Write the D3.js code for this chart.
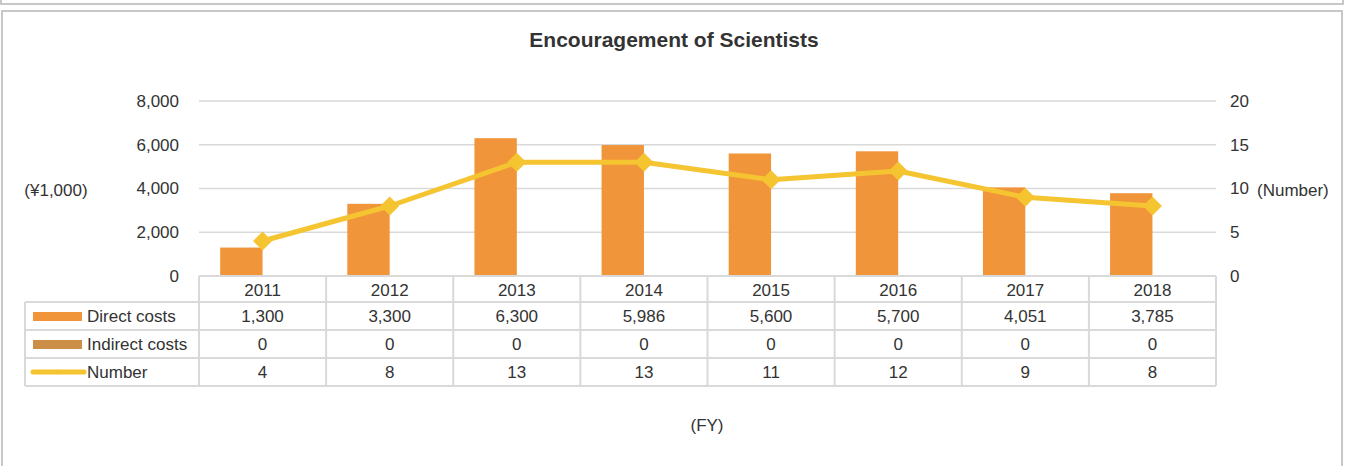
<!DOCTYPE html>
<html>
<head>
<meta charset="utf-8">
<script src="https://cdn.jsdelivr.net/npm/d3@7"></script>
<style>
  body { margin: 0; background: #fff; }
  svg text { font-family: "Liberation Sans", Arial, sans-serif; fill: #333; }
</style>
</head>
<body>
<div id="chart"></div>
<script>
var w = 1349;
var h = 466;

var years = ["2011", "2012", "2013", "2014", "2015", "2016", "2017", "2018"];
var directCosts = [1300, 3300, 6300, 5986, 5600, 5700, 4051, 3785];
var indirectCosts = [0, 0, 0, 0, 0, 0, 0, 0];
var numbers = [4, 8, 13, 13, 11, 12, 9, 8];
var leftTicks = [0, 2000, 4000, 6000, 8000];
var rightTicks = [0, 5, 10, 15, 20];
var seriesNames = ["Direct costs", "Indirect costs", "Number"];

var barColor = "#f0953a";
var indirectColor = "#cc8f47";
var lineColor = "#f5c431";
var gridColor = "#d9d9d9";
var fs = "17px";

var plotLeft = 199, plotRight = 1216, plotTop = 101, plotBottom = 276;

var svg = d3.select("#chart")
            .append("svg")
            .attr("width", w)
            .attr("height", h);

// frames
svg.append("rect")
    .attr("x", 1).attr("y", -10).attr("width", 1342).attr("height", 14)
    .attr("fill", "none").attr("stroke", "#c8c8c8").attr("stroke-width", 2);
svg.append("rect")
    .attr("x", 2).attr("y", 11).attr("width", 1340).attr("height", 470)
    .attr("fill", "none").attr("stroke", "#c8c8c8").attr("stroke-width", 2);

svg.append("text")
    .attr("x", 674).attr("y", 47)
    .attr("text-anchor", "middle")
    .style("font-size", "21px")
    .style("font-weight", "bold")
    .text("Encouragement of Scientists");

// scales
var xScale = d3.scaleBand().domain(years).range([plotLeft, plotRight]);
var xInner = d3.scaleBand()
    .domain(["direct", "indirect"])
    .range([0, xScale.bandwidth()])
    .paddingOuter(0.5);
var yLeft = d3.scaleLinear().domain([0, 8000]).range([plotBottom, plotTop]);
var yRight = d3.scaleLinear().domain([0, 20]).range([plotBottom, plotTop]);

// grid
svg.append("g")
    .selectAll("line")
    .data(leftTicks.slice(1))
    .enter()
    .append("line")
    .attr("x1", plotLeft).attr("x2", plotRight)
    .attr("y1", (d) => yLeft(d)).attr("y2", (d) => yLeft(d))
    .attr("stroke", gridColor).attr("stroke-width", 1.5);

// axes
var leftAxis = d3.axisLeft(yLeft)
    .tickValues(leftTicks)
    .tickFormat(d3.format(","))
    .tickSize(0)
    .tickPadding(20);
svg.append("g")
    .attr("transform", "translate(" + plotLeft + ",0)")
    .call(leftAxis)
    .call((g) => g.select(".domain").remove())
    .selectAll("text")
    .style("font-size", fs)
    .attr("fill", "#333");

var rightAxis = d3.axisRight(yRight)
    .tickValues(rightTicks)
    .tickSize(0)
    .tickPadding(14);
svg.append("g")
    .attr("transform", "translate(" + plotRight + ",0)")
    .call(rightAxis)
    .call((g) => g.select(".domain").remove())
    .selectAll("text")
    .style("font-size", fs)
    .attr("fill", "#333");

svg.append("text")
    .attr("x", 56).attr("y", 196)
    .attr("text-anchor", "middle")
    .style("font-size", fs)
    .text("(\u00a51,000)");
svg.append("text")
    .attr("x", 1257).attr("y", 196)
    .style("font-size", fs)
    .text("(Number)");

// bars
svg.append("g")
    .selectAll("rect")
    .data(years)
    .enter()
    .append("rect")
    .attr("x", (d) => xScale(d) + xInner("direct"))
    .attr("y", (d, i) => yLeft(directCosts[i]))
    .attr("width", xInner.bandwidth())
    .attr("height", (d, i) => yLeft(0) - yLeft(directCosts[i]))
    .attr("fill", barColor);

svg.append("g")
    .selectAll("rect")
    .data(years)
    .enter()
    .append("rect")
    .attr("x", (d) => xScale(d) + xInner("indirect"))
    .attr("y", (d, i) => yLeft(indirectCosts[i]))
    .attr("width", xInner.bandwidth())
    .attr("height", (d, i) => yLeft(0) - yLeft(indirectCosts[i]))
    .attr("fill", indirectColor);

// line
var cx = (d) => xScale(d) + xScale.bandwidth() / 2;
var line = d3.line()
    .x((d, i) => cx(years[i]))
    .y((d) => yRight(d));
svg.append("path")
    .datum(numbers)
    .attr("d", line)
    .attr("fill", "none")
    .attr("stroke", lineColor)
    .attr("stroke-width", 5)
    .attr("stroke-linejoin", "round");

var diamond = d3.symbol().type(d3.symbolDiamond2).size(230);
svg.append("g")
    .selectAll("path")
    .data(numbers)
    .enter()
    .append("path")
    .attr("d", diamond)
    .attr("transform", (d, i) => "translate(" + cx(years[i]) + "," + yRight(d) + ")")
    .attr("fill", lineColor);

// data table
var rowEdges = [276, 302, 330, 358, 386];
var tableLeft = 25;
var tableColor = "#d9d9d9";
var table = svg.append("g");

table.selectAll("line.h")
    .data(rowEdges)
    .enter()
    .append("line")
    .attr("class", "h")
    .attr("x1", (d, i) => i === 0 ? plotLeft : tableLeft)
    .attr("x2", plotRight)
    .attr("y1", (d) => d).attr("y2", (d) => d)
    .attr("stroke", tableColor).attr("stroke-width", 2);

var colEdges = years.map((d) => xScale(d)).concat([plotRight]);
table.selectAll("line.v")
    .data(colEdges)
    .enter()
    .append("line")
    .attr("class", "v")
    .attr("x1", (d) => d).attr("x2", (d) => d)
    .attr("y1", rowEdges[0]).attr("y2", rowEdges[4])
    .attr("stroke", tableColor).attr("stroke-width", 2);
table.append("line")
    .attr("x1", tableLeft).attr("x2", tableLeft)
    .attr("y1", rowEdges[1]).attr("y2", rowEdges[4])
    .attr("stroke", tableColor).attr("stroke-width", 2);

table.selectAll("text.year")
    .data(years)
    .enter()
    .append("text")
    .attr("class", "year")
    .attr("x", (d) => cx(d))
    .attr("y", (rowEdges[0] + rowEdges[1]) / 2 + 7)
    .attr("text-anchor", "middle")
    .style("font-size", fs)
    .text((d) => d);

var rows = [
  { name: seriesNames[0], values: directCosts, fmt: d3.format(","), color: barColor, kind: "bar" },
  { name: seriesNames[1], values: indirectCosts, fmt: d3.format(","), color: indirectColor, kind: "bar" },
  { name: seriesNames[2], values: numbers, fmt: d3.format("d"), color: lineColor, kind: "line" }
];

rows.forEach((r, ri) => {
  var yMid = (rowEdges[ri + 1] + rowEdges[ri + 2]) / 2;
  table.selectAll("text.r" + ri)
      .data(r.values)
      .enter()
      .append("text")
      .attr("x", (d, i) => cx(years[i]))
      .attr("y", yMid + 6)
      .attr("text-anchor", "middle")
      .style("font-size", fs)
      .text((d) => r.fmt(d));
  if (r.kind === "bar") {
    table.append("rect")
        .attr("x", 33).attr("y", yMid - 4)
        .attr("width", 49).attr("height", 9)
        .attr("fill", r.color);
  } else {
    table.append("line")
        .attr("x1", 33).attr("x2", 84)
        .attr("y1", yMid).attr("y2", yMid)
        .attr("stroke", r.color).attr("stroke-width", 5)
        .attr("stroke-linecap", "round");
    table.append("path")
        .attr("d", d3.symbol().type(d3.symbolDiamond2).size(20))
        .attr("transform", "translate(58," + yMid + ")")
        .attr("fill", r.color);
  }
  table.append("text")
      .attr("x", 87)
      .attr("y", yMid + 6)
      .style("font-size", fs)
      .text(r.name);
});

svg.append("text")
    .attr("x", 707).attr("y", 431)
    .attr("text-anchor", "middle")
    .style("font-size", fs)
    .text("(FY)");
</script>
</body>
</html>
